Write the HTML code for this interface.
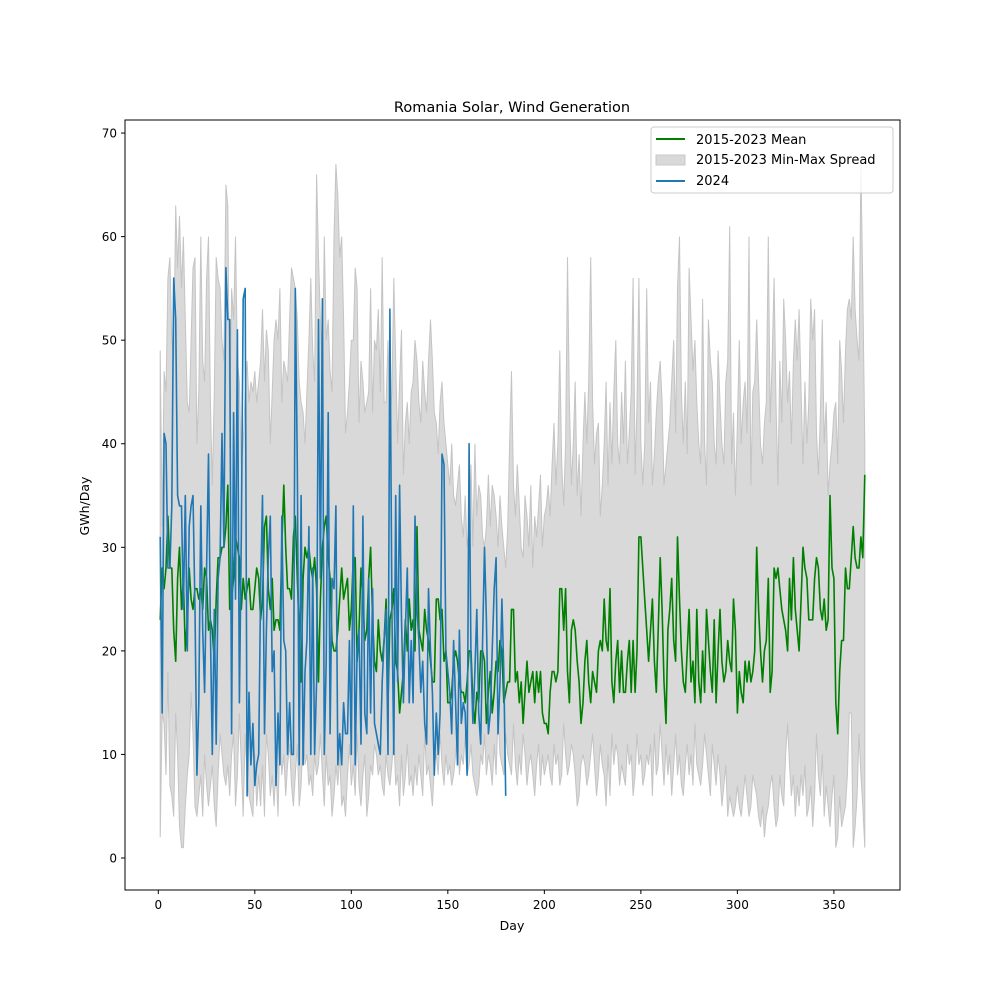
<!DOCTYPE html>
<html><head><meta charset="utf-8"><style>
html,body{margin:0;padding:0;background:#fff;}
svg text{font-family:"DejaVu Sans","Liberation Sans",sans-serif;fill:#000;}
</style></head><body>
<svg id="chart" width="1000" height="1000" xmlns="http://www.w3.org/2000/svg">
<rect width="1000" height="1000" fill="#fff"/>
<g id="plot"></g>
<rect x="125" y="120" width="775" height="770" fill="none" stroke="#000" stroke-width="1"/>
<g id="axes"></g>
<text x="512" y="112" font-size="14.5" text-anchor="middle">Romania Solar, Wind Generation</text>
<text x="512" y="930" font-size="12.5" text-anchor="middle">Day</text>
<text transform="translate(89,506) rotate(-90)" font-size="12.5" text-anchor="middle">GWh/Day</text>
<g>
<rect x="651" y="127" width="242" height="66" rx="3" fill="#fff" fill-opacity="0.8" stroke="#ccc"/>
<line x1="656" y1="139" x2="685" y2="139" stroke="#008000" stroke-width="2"/>
<text x="696" y="144" font-size="13">2015-2023 Mean</text>
<rect x="656" y="155" width="29" height="10" fill="#d9d9d9" stroke="#c8c8c8"/>
<text x="696" y="164" font-size="13">2015-2023 Min-Max Spread</text>
<line x1="656" y1="181" x2="685" y2="181" stroke="#1f77b4" stroke-width="2"/>
<text x="696" y="185" font-size="13">2024</text>
</g>
</svg>
<script>
const meanVals=[23,28,26,28,33,28,28,22,19,27,30,24,27,20,23,28,25,24,26,26,25,26,24,28,27,22,23,22,19,25,29,29,30,30,32,36,24,25,27,31,30,29,24,27,25,26,27,24,24,26,28,27,23,25,32,33,26,24,27,22,23,23,22,30,36,30,26,26,25,31,33,27,22,17,27,30,29,30,28,27,29,26,17,25,30,32,33,29,27,21,20,20,22,25,28,25,26,27,22,24,29,29,19,22,28,25,21,22,27,30,23,19,18,23,20,19,21,25,15,23,24,26,19,18,14,16,18,23,20,25,22,23,20,32,22,21,20,24,22,21,19,17,17,25,25,23,24,19,20,15,15,16,19,20,19,17,16,16,15,17,20,20,15,13,16,15,20,20,19,13,16,18,14,16,19,18,21,20,15,16,17,17,24,24,17,18,15,17,13,16,19,16,17,18,15,18,16,18,14,13,13,12,16,18,18,17,18,26,26,22,26,18,15,22,23,22,19,17,13,15,19,21,17,15,18,17,16,20,21,20,25,21,20,26,17,15,19,21,16,20,16,16,19,21,16,21,16,20,31,31,28,25,22,19,22,25,19,16,22,29,24,17,13,22,24,27,21,19,31,25,20,17,16,20,24,17,19,15,24,17,15,20,16,24,21,18,16,23,15,20,24,19,17,18,21,19,18,25,22,14,18,16,15,19,17,19,17,18,20,30,24,20,17,20,21,27,16,18,28,27,28,26,24,23,22,20,27,23,29,24,22,20,25,30,28,27,23,23,23,27,29,28,24,23,25,22,23,35,28,27,15,12,18,21,21,28,26,26,29,32,29,28,28,31,29,37];
const maxVals=[49,32,47,45,56,58,50,48,63,57,62,55,60,52,44,43,50,57,58,40,45,60,48,46,56,60,44,36,45,58,56,55,50,48,65,63,42,55,52,60,48,46,38,40,45,48,44,46,45,47,44,46,48,53,46,51,49,40,45,50,52,50,55,44,48,47,46,52,57,56,55,52,46,44,43,40,45,50,56,49,46,66,58,52,46,60,50,52,47,45,60,67,64,58,60,52,41,43,46,50,50,57,55,42,48,46,43,44,45,55,43,50,49,53,45,58,44,44,50,42,45,56,48,40,46,51,37,42,44,40,45,46,50,48,44,42,48,45,43,48,52,48,43,42,39,44,46,42,40,38,36,40,35,34,36,38,33,31,35,30,32,38,30,40,33,36,35,31,30,32,37,32,36,35,33,30,35,32,30,28,32,40,47,36,33,38,34,30,29,35,33,30,36,28,33,31,34,37,30,33,34,36,33,38,42,36,40,49,38,34,40,58,44,36,40,46,35,39,33,40,45,40,46,58,44,38,41,42,33,36,40,46,36,44,38,45,50,40,38,45,40,48,38,41,45,56,37,44,56,40,36,40,55,42,46,36,39,43,46,48,44,36,38,40,42,46,50,41,55,60,45,40,46,39,57,52,47,50,44,40,38,54,40,36,52,48,46,40,38,49,44,40,38,46,48,61,38,43,35,42,50,40,44,46,41,60,36,45,46,52,46,40,38,42,44,60,42,48,56,44,36,48,42,54,50,44,47,40,48,52,48,53,45,38,46,40,44,54,50,53,41,37,43,52,40,44,35,38,40,43,44,38,50,47,42,49,53,54,52,60,53,50,48,67,55,40];
const minVals=[2,14,13,8,18,7,6,4,14,10,3,1,1,5,8,10,16,12,5,4,6,8,4,10,7,5,7,9,5,3,8,12,10,8,7,9,6,10,12,5,8,14,9,4,12,8,6,5,4,10,5,8,5,9,4,12,10,6,8,5,9,4,12,8,10,6,9,11,7,5,8,11,5,7,12,9,10,7,8,6,10,8,9,12,8,5,10,7,8,4,6,9,7,10,5,6,4,8,11,7,9,6,12,7,5,8,10,4,6,9,8,11,10,8,9,7,6,10,8,7,9,12,7,8,5,10,6,8,11,7,8,6,9,7,10,8,6,12,8,9,7,5,9,10,8,12,9,7,10,8,9,7,8,10,13,8,10,9,12,8,9,11,8,7,6,7,10,9,12,8,10,9,7,11,8,14,10,9,8,12,10,9,8,13,9,7,10,8,12,10,7,9,10,8,6,9,11,7,10,8,9,10,8,7,11,9,10,7,8,13,10,8,9,11,10,8,5,6,9,10,9,7,8,10,12,9,6,8,11,9,8,5,10,6,12,9,11,10,7,9,8,7,11,9,10,6,8,12,9,10,7,8,10,9,11,6,12,8,9,13,10,7,11,8,10,6,9,12,8,10,7,6,9,11,8,10,7,13,9,8,7,9,12,10,8,6,11,9,7,10,8,5,7,9,4,6,5,4,5,7,5,4,6,8,6,4,5,8,7,6,4,3,5,2,4,5,7,8,5,3,4,8,6,5,10,13,9,6,8,4,7,5,8,6,9,4,5,7,3,6,12,8,6,10,4,7,5,3,6,8,1,2,6,3,4,5,8,14,14,1,3,6,12,8,5,1];
const y2024=[31,14,41,40,28,28,34,56,52,35,34,34,24,35,20,32,34,35,24,8,15,34,22,16,28,39,22,10,24,11,27,29,41,30,57,52,52,12,43,25,51,15,31,54,55,6,16,9,13,7,9,10,26,35,12,22,29,33,18,20,7,14,9,33,21,20,10,15,10,10,55,38,9,35,9,18,21,32,10,28,10,17,52,27,54,10,19,43,12,27,26,34,9,12,9,15,12,12,21,10,34,9,20,22,11,33,14,12,27,14,26,13,12,11,10,17,21,24,10,53,24,10,35,17,36,23,15,22,28,15,21,15,33,24,21,16,19,13,11,26,20,16,8,14,10,14,39,38,20,18,16,12,21,15,9,22,13,15,14,8,40,19,13,18,24,14,11,21,30,23,12,14,20,26,29,12,17,25,18,6];
const xTicks=[0,50,100,150,200,250,300,350];
const yTicks=[0,10,20,30,40,50,60,70];
const X0=125,X1=900,Y0=890,Y1=120,XMIN=-17.25,XMAX=384.25,YMIN=-3.09,YMAX=71.26;
function sx(d){return X0+(d-XMIN)/(XMAX-XMIN)*(X1-X0);}
function sy(v){return Y0-(v-YMIN)/(YMAX-YMIN)*(Y0-Y1);}
const NS="http://www.w3.org/2000/svg";
const plotG=document.getElementById('plot'),axesG=document.getElementById('axes');
function mk(tag,attrs,parent){const e=document.createElementNS(NS,tag);for(const k in attrs)e.setAttribute(k,attrs[k]);parent.appendChild(e);return e;}
const upperPts=maxVals.map((v,i)=>sx(i+1).toFixed(1)+','+sy(v).toFixed(1));
const lowerPts=minVals.map((v,i)=>sx(i+1).toFixed(1)+','+sy(v).toFixed(1)).reverse();
const band=mk('polygon',{points:upperPts.concat(lowerPts).join(' '),fill:'#d9d9d9',stroke:'#c4c4c4','stroke-width':'1'},plotG);


const meanLine=mk('polyline',{points:meanVals.map((v,i)=>sx(i+1).toFixed(1)+','+sy(v).toFixed(1)).join(' '),fill:'none',stroke:'#008000','stroke-width':'1.6','stroke-linejoin':'round'},plotG);


const line24=mk('polyline',{points:y2024.map((v,i)=>sx(i+1).toFixed(1)+','+sy(v).toFixed(1)).join(' '),fill:'none',stroke:'#1f77b4','stroke-width':'1.6','stroke-linejoin':'round'},plotG);


xTicks.forEach(t=>{
  const l=mk('line',{x1:sx(t),x2:sx(t),y1:890,y2:894,stroke:'#000'},axesG);
  
  
  const tx=mk('text',{x:sx(t),y:909,'font-size':'12','text-anchor':'middle'},axesG);tx.textContent=t;
  
  
});
yTicks.forEach(t=>{
  const l=mk('line',{x1:121,x2:125,y1:sy(t),y2:sy(t),stroke:'#000'},axesG);
  
  
  const tx=mk('text',{x:117,y:sy(t)+4.5,'font-size':'12','text-anchor':'end'},axesG);tx.textContent=t;
  
  
});
</script>
</body></html>
